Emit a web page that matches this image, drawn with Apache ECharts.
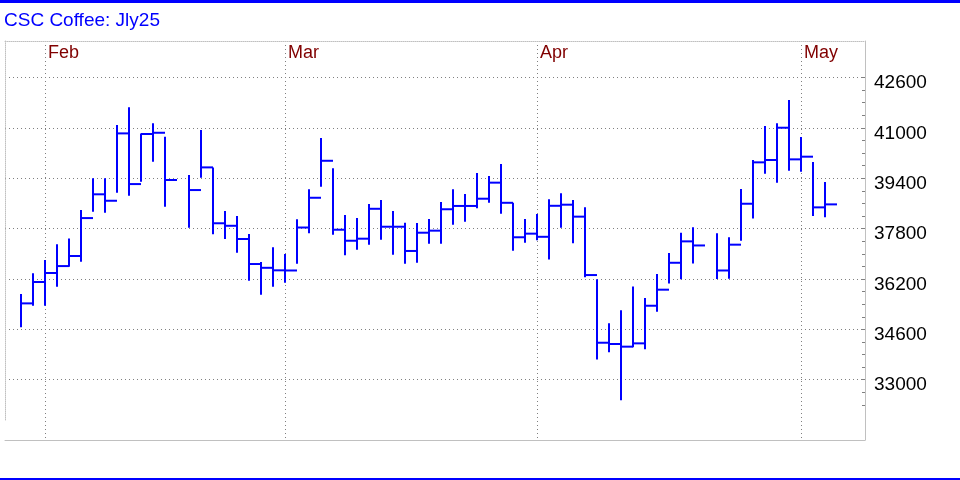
<!DOCTYPE html>
<html><head><meta charset="utf-8">
<script src="https://cdn.jsdelivr.net/npm/echarts@6/dist/echarts.min.js"></script>
<style>html,body{margin:0;padding:0;background:#fff}#c{width:960px;height:480px}</style>
</head><body><div id="c"></div>
<script>
// Trading-day slots (weekdays; holidays have no bar)
const dates = [
 '2025-01-29','2025-01-30','2025-01-31',
 '2025-02-03','2025-02-04','2025-02-05','2025-02-06','2025-02-07',
 '2025-02-10','2025-02-11','2025-02-12','2025-02-13','2025-02-14',
 '2025-02-17','2025-02-18','2025-02-19','2025-02-20','2025-02-21',
 '2025-02-24','2025-02-25','2025-02-26','2025-02-27','2025-02-28',
 '2025-03-03','2025-03-04','2025-03-05','2025-03-06','2025-03-07',
 '2025-03-10','2025-03-11','2025-03-12','2025-03-13','2025-03-14',
 '2025-03-17','2025-03-18','2025-03-19','2025-03-20','2025-03-21',
 '2025-03-24','2025-03-25','2025-03-26','2025-03-27','2025-03-28',
 '2025-03-31',
 '2025-04-01','2025-04-02','2025-04-03','2025-04-04',
 '2025-04-07','2025-04-08','2025-04-09','2025-04-10','2025-04-11',
 '2025-04-14','2025-04-15','2025-04-16','2025-04-17','2025-04-18',
 '2025-04-21','2025-04-22','2025-04-23','2025-04-24','2025-04-25',
 '2025-04-28','2025-04-29','2025-04-30',
 '2025-05-01','2025-05-02'
];
const highs = [
 35720,36380,36800,
 37300,37490,38390,39400,39400,
 41090,41655,40825,41145,40720,
 null,39500,40930,39745,38360,
 38200,37630,36740,37205,36990,
 38100,39050,40680,39715,38230,
 38135,38580,38710,38360,37985,
 37975,38105,38645,39050,38900,
 39565,39470,39850,38620,38105,
 38265,
 38730,38920,38710,38475,
 36190,34790,35205,35965,35595,
 36355,37025,37670,37845,null,
 37655,37525,39060,39980,41060,
 41145,41885,40710,
 39915,39280
];
const lows = [
 34665,35350,35350,
 35955,36590,36750,38335,38305,
 38940,38845,39290,39925,38495,
 null,37830,39415,37620,37470,
 37035,36145,35700,35955,36080,
 36680,37650,39130,37605,36950,
 37130,37290,37445,36970,36685,
 36715,37320,37320,37925,38020,
 38445,38620,38275,37100,37350,
 37430,
 36820,37830,37335,36255,
 33645,33870,32345,34030,33965,
 35160,36060,36190,36690,null,
 36200,36210,37415,38125,39545,
 39260,39640,39605,
 38200,38160
];
const closes = [
 35425,36105,36390,
 36610,36930,38135,38890,38685,
 40825,39215,40805,40845,39345,
 null,39025,39745,37970,37890,
 37470,36675,36555,36475,36470,
 37835,38780,39955,37765,37415,
 37480,38430,37860,37860,37090,
 37670,37735,38415,38520,38520,
 38750,39260,38620,37525,37640,
 37540,
 38525,38560,38180,36325,
 34175,34135,34050,34155,35350,
 35860,36715,37395,37265,null,
 36470,37290,38590,39905,39980,
 41005,40000,40085,
 38475,38570
];
const monthNames = ['Feb','Mar','Apr','May'];
const yTickLabels = [33000,34600,36200,37800,39400,41000,42600];
const titleText = 'CSC Coffee: Jly25';

const minorTicks = [];
for (let v = 32200; v <= 42600; v += 400) minorTicks.push(v);
// month divider drawn at the last slot of the previous month
const monthLines = [];
for (let i = 1; i < dates.length; i++) {
  if (dates[i].slice(5,7) !== dates[i-1].slice(5,7)) monthLines.push(i - 1);
}
const barData = [];
dates.forEach((d, i) => { if (highs[i] != null) barData.push([i, highs[i], lows[i], closes[i]]); });

const FONT = '"Liberation Sans", Arial, sans-serif';
const YMIN = 31085, YMAX = 43760;
const XMIN = -4/3, XMAX = 211/3;

const chart = echarts.init(document.getElementById('c'), null, {renderer:'canvas'});
chart.setOption({
  animation: false,
  backgroundColor: '#fff',
  graphic: [
    {type:'rect', shape:{x:0,y:0,width:960,height:3}, style:{fill:'#0000ff'}, silent:true},
    {type:'rect', shape:{x:0,y:478,width:960,height:2}, style:{fill:'#0000ff'}, silent:true},
    {type:'text', x:4, y:21, style:{text:titleText, fill:'#0000ff', font:'19px ' + FONT, verticalAlign:'middle', align:'left'}, silent:true}
  ],
  grid: [
    {left:5, right:95, top:41, bottom:40, outerBoundsMode:'none', containLabel:false},
    {left:5, right:95, top:41, bottom:60, outerBoundsMode:'none', containLabel:false}
  ],
  xAxis: [
    {type:'value', gridIndex:0, position:'top', min:XMIN, max:XMAX,
     axisLine:{show:true, onZero:false, lineStyle:{color:'#c0c0c0', width:1, type:[1,1]}},
     axisTick:{show:false, customValues:monthLines},
     axisLabel:{show:true, inside:true, customValues:monthLines,
       formatter:(v)=>monthNames[monthLines.indexOf(Math.round(v))] || '',
       align:'left', verticalAlign:'middle', margin:12, padding:[0,0,0,3],
       fontSize:18, fontFamily:FONT, color:'#800000'},
     splitLine:{show:true, lineStyle:{color:'#808080', width:1, type:[1,3]}}},
    {type:'value', gridIndex:0, position:'bottom', min:XMIN, max:XMAX,
     axisLine:{show:true, onZero:false, lineStyle:{color:'#c0c0c0', width:1}},
     axisTick:{show:false}, axisLabel:{show:false}, splitLine:{show:false}},
    {type:'value', gridIndex:1, show:false, min:0, max:1}
  ],
  yAxis: [
    {type:'value', gridIndex:0, position:'right', min:YMIN, max:YMAX,
     axisLine:{show:true, onZero:false, lineStyle:{color:'#c0c0c0', width:1}},
     axisTick:{show:true, inside:true, length:3, customValues:minorTicks, lineStyle:{color:'#808080'}},
     axisLabel:{show:false}, splitLine:{show:false}},
    {type:'value', gridIndex:0, position:'right', min:YMIN, max:YMAX,
     axisLine:{show:false, onZero:false},
     axisTick:{show:false, customValues:yTickLabels},
     axisLabel:{show:true, customValues:yTickLabels, margin:9, fontSize:19, fontFamily:FONT,
       color:'#000', formatter:(v)=>String(Math.round(v)),
       verticalAlign:'top', lineHeight:11},
     splitLine:{show:true, lineStyle:{color:'#808080', width:1, type:[1,3]}}},
    {type:'value', gridIndex:1, position:'left', min:0, max:1,
     axisLine:{show:true, onZero:false, lineStyle:{color:'#c0c0c0', width:1, type:[1,1]}},
     axisTick:{show:false}, axisLabel:{show:false}, splitLine:{show:false}}
  ],
  series: [{
    type:'custom', xAxisIndex:0, yAxisIndex:0,
    data: barData,
    encode:{x:0, y:[1,2,3]},
    renderItem: function (params, api) {
      const i = api.value(0);
      const hi = api.coord([i, api.value(1)]);
      const lo = api.coord([i, api.value(2)]);
      const cl = api.coord([i, api.value(3)]);
      const w = api.size([1, 0])[0];
      const st = {stroke:'#0000ff', lineWidth:2, lineCap:'butt'};
      return {type:'group', children:[
        {type:'line', shape:{x1:hi[0], y1:hi[1], x2:lo[0], y2:lo[1]}, style:st},
        {type:'line', shape:{x1:cl[0], y1:cl[1], x2:cl[0] + w, y2:cl[1]}, style:st}
      ]};
    }
  }]
});
</script></body></html>
